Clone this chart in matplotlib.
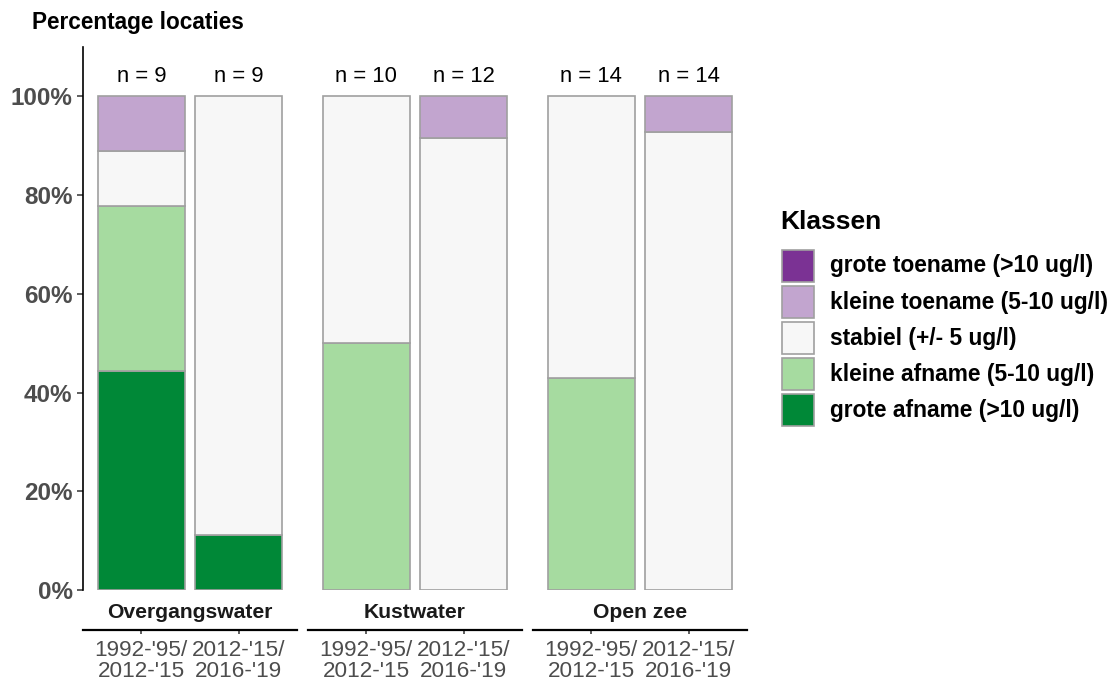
import numpy as np
import matplotlib
matplotlib.use("Agg")
import matplotlib.pyplot as plt
import matplotlib.patches as mpatches
import matplotlib.ticker as mticker

plt.rcParams['font.family'] = ['Liberation Sans', 'DejaVu Sans']

# ── data ─────────────────────────────────────────────────────────────────────
waters  = ['Overgangswater', 'Kustwater', 'Open zee']
periods = ["1992-'95/\n2012-'15", "2012-'15/\n2016-'19"]

# klassen, van onder naar boven gestapeld
classes = ['grote afname (>10 ug/l)', 'kleine afname (5-10 ug/l)',
           'stabiel (+/- 5 ug/l)', 'kleine toename (5-10 ug/l)',
           'grote toename (>10 ug/l)']
colors  = ['#008837', '#A6DBA0', '#F7F7F7', '#C2A5CF', '#7B3294']

# aantallen locaties per staaf: [Overg. P1, Overg. P2, Kust P1, Kust P2, Open P1, Open P2]
grote_afname   = [4, 1, 0, 0, 0, 0]
kleine_afname  = [3, 0, 5, 0, 6, 0]
stabiel        = [1, 8, 5, 11, 8, 13]
kleine_toename = [1, 0, 0, 1, 0, 1]
grote_toename  = [0, 0, 0, 0, 0, 0]

counts = np.array([grote_afname, kleine_afname, stabiel, kleine_toename, grote_toename], dtype=float)
n_loc  = counts.sum(axis=0).astype(int)
pct    = counts / n_loc * 100

# ── figure ───────────────────────────────────────────────────────────────────
W, H = 1120, 681
fig = plt.figure(figsize=(W / 100, H / 100), dpi=100)

def px_axes(x0, y0, x1, y1):
    return fig.add_axes([x0 / W, 1 - y1 / H, (x1 - x0) / W, (y1 - y0) / H])

panel_x = [(83, 297), (308, 522), (533, 747)]
top, bot = 47, 590
edge = '#A0A0A0'
grey_txt = '#4D4D4D'

for i, (water, (x0, x1)) in enumerate(zip(waters, panel_x)):
    ax = px_axes(x0, top, x1, bot)
    ax.set_xlim(-0.6, 1.6)
    ax.set_ylim(0, 110)
    xs = np.arange(len(periods))
    cols = [2 * i, 2 * i + 1]
    bottom = np.zeros(len(periods))
    for k in range(len(classes)):
        h = pct[k, cols]
        m = h > 0
        ax.bar(xs[m], h[m], bottom=bottom[m], width=0.9, color=colors[k],
               edgecolor=edge, linewidth=1.2, zorder=2)
        bottom += h
    for x, c in zip(xs, cols):
        ax.text(x, 104, f"n = {n_loc[c]}", ha='center', va='center', fontsize=15.8, color='black')

    ax.text(0.5, -0.042, water, transform=ax.transAxes, ha='center', va='center',
            fontsize=15.2, fontweight='bold', color='#1A1A1A')

    for s in ['top', 'right']:
        ax.spines[s].set_visible(False)
    ax.spines['bottom'].set_position(('outward', 40 * 0.72))
    ax.spines['bottom'].set_linewidth(1.6)
    ax.set_xticks(xs)
    ax.set_xticklabels(periods, fontsize=16.2, color=grey_txt, linespacing=1.0)
    ax.tick_params(axis='x', length=3, width=1.1, color='#333333', pad=4)

    if i == 0:
        ax.spines['left'].set_linewidth(1.2)
        ax.set_yticks([0, 20, 40, 60, 80, 100])
        ax.yaxis.set_major_formatter(mticker.FuncFormatter(lambda v, _: f"{v:.0f}%"))
        ax.tick_params(axis='y', length=4, width=1.1, color='#333333', pad=3.5,
                       labelsize=17.5, labelcolor=grey_txt)
        for lab in ax.get_yticklabels():
            lab.set_fontweight('bold')
    else:
        ax.spines['left'].set_visible(False)
        ax.set_yticks([])
    ax.set_facecolor('none')

fig.text(32 / W, 1 - 23 / H, 'Percentage locaties', ha='left', va='center',
         fontsize=16.3, fontweight='bold')

# ── legend ───────────────────────────────────────────────────────────────────
fig.text(780 / W, 1 - 222 / H, 'Klassen', ha='left', va='center',
         fontsize=19, fontweight='bold')
row0, step, box = 266, 36, 32
for j, k in enumerate(range(len(classes) - 1, -1, -1)):
    yc = row0 + j * step
    fig.patches.append(mpatches.Rectangle((782 / W, 1 - (yc + box / 2) / H), box / W, box / H,
                                          transform=fig.transFigure, facecolor=colors[k],
                                          edgecolor=edge, linewidth=1.2))
    fig.text(830 / W, 1 - yc / H, classes[k], ha='left', va='center',
             fontsize=16.4, fontweight='bold')

plt.savefig('out.png', dpi=100, facecolor='white')
plt.close()
